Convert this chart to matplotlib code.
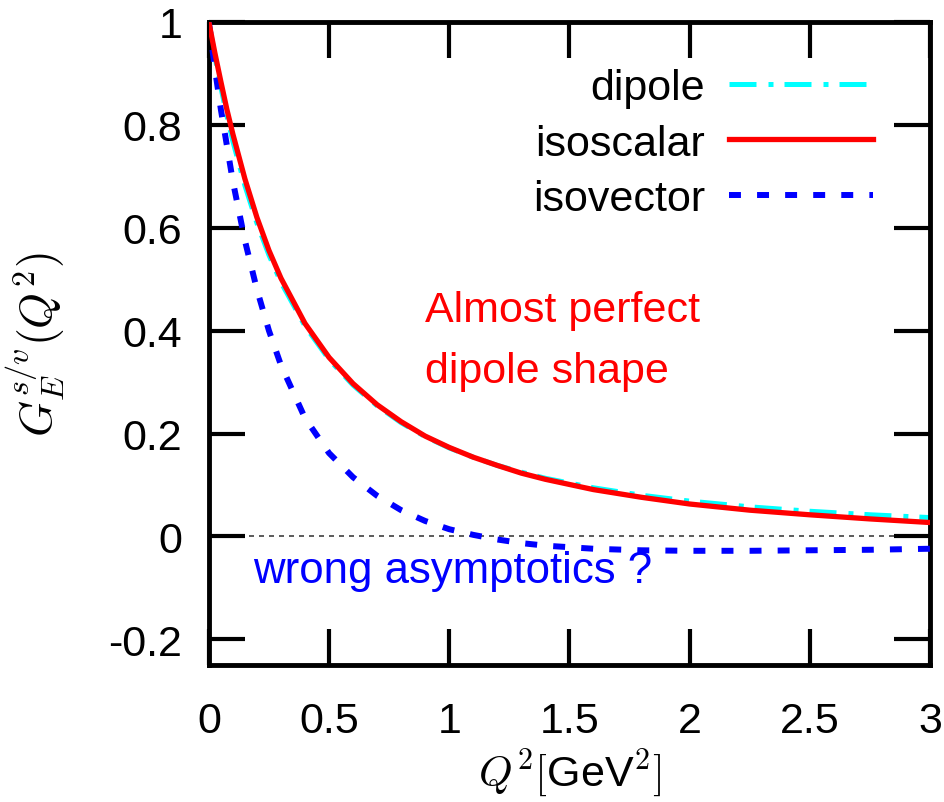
import numpy as np
import matplotlib
matplotlib.use("Agg")
import matplotlib.pyplot as plt

# Q^2 grid in GeV^2
q2 = [0.0, 0.025, 0.05, 0.075, 0.1, 0.15, 0.2, 0.25, 0.3, 0.4, 0.5, 0.6,
      0.7, 0.8, 0.9, 1.0, 1.1, 1.2, 1.3, 1.4, 1.6, 1.8, 2.0, 2.25, 2.5,
      2.75, 3.0]

dipole = [1.0, 0.933, 0.873, 0.818, 0.768, 0.682, 0.609, 0.547, 0.494,
          0.409, 0.344, 0.294, 0.254, 0.221, 0.194, 0.172, 0.154, 0.138,
          0.125, 0.113, 0.0945, 0.080, 0.0686, 0.0575, 0.0489, 0.0421,
          0.0366]

isoscalar = [1.0, 0.940, 0.884, 0.830, 0.782, 0.695, 0.620, 0.556, 0.502,
             0.414, 0.348, 0.297, 0.256, 0.223, 0.195, 0.173, 0.154, 0.138,
             0.123, 0.111, 0.091, 0.076, 0.063, 0.051, 0.042, 0.034, 0.027]

isovector = [1.0, 0.91, 0.83, 0.76, 0.69, 0.575, 0.48, 0.40, 0.333, 0.23,
             0.162, 0.115, 0.079, 0.051, 0.030, 0.014, 0.003, -0.006, -0.013,
             -0.018, -0.024, -0.027, -0.028, -0.028, -0.027, -0.026, -0.024]

xticks = [0, 0.5, 1, 1.5, 2, 2.5, 3]
xtick_labels = ["0", "0.5", "1", "1.5", "2", "2.5", "3"]
yticks = [-0.2, 0, 0.2, 0.4, 0.6, 0.8, 1]
ytick_labels = ["-0.2", "0", "0.2", "0.4", "0.6", "0.8", "1"]

plt.rcParams['font.family'] = ['Liberation Sans', 'DejaVu Sans']
plt.rcParams['mathtext.fontset'] = 'cm'
fs = 31

fig = plt.figure(figsize=(9.45, 8.03), dpi=100)
ax = fig.add_axes([0.221, 0.1706, 0.763, 0.8008])

# zero line
ax.axhline(0, color='#404040', lw=1.2, ls=(0, (3, 3)), zorder=1)

ax.plot(q2, dipole, color='#00ffff', lw=3.6,
        ls=(0, (5.4, 2.4, 1.0, 2.2)), label='dipole', zorder=2)
ax.plot(q2, isovector, color='#0000ff', lw=4.3,
        ls=(0, (2.0, 2.7)), label='isovector', zorder=3)
ax.plot(q2, isoscalar, color='#ff0000', lw=3.8, label='isoscalar', zorder=4)

ax.set_xlim(0, 3)
ax.set_ylim(-0.25, 1)
ax.set_xticks(xticks)
ax.set_xticklabels(xtick_labels)
ax.set_yticks(yticks)
ax.set_yticklabels(ytick_labels)

for s in ax.spines.values():
    s.set_linewidth(3.5)
ax.tick_params(direction='in', length=26, width=3, top=True, right=True,
               labelsize=fs)
ax.tick_params(axis='x', pad=26)
ax.tick_params(axis='y', pad=19)

ax.set_xlabel(r'$Q^2[$GeV$^2]$', fontsize=fs)
ax.xaxis.set_label_coords(0.5, -0.127)
ax.set_ylabel(r'$G_E^{s/v}(Q^2)$', fontsize=33)
ax.yaxis.set_label_coords(-0.197, 0.5)

handles, labels = ax.get_legend_handles_labels()
order = [labels.index(n) for n in ['dipole', 'isoscalar', 'isovector']]
ax.legend([handles[i] for i in order], [labels[i] for i in order],
          loc='upper right', bbox_to_anchor=(873 / 945, (803 - 69) / 803),
          bbox_transform=fig.transFigure, frameon=False, markerfirst=False,
          fontsize=fs, handlelength=3.35, handletextpad=0.55,
          labelspacing=0.36, borderpad=0, borderaxespad=0)

ax.text(0.9, 0.418, 'Almost perfect', color='#ff0000', fontsize=fs,
        va='baseline', ha='left')
ax.text(0.9, 0.301, 'dipole shape', color='#ff0000', fontsize=fs,
        va='baseline', ha='left')
ax.text(0.183, -0.089, 'wrong asymptotics ?', color='#0000ff', fontsize=31.5,
        va='baseline', ha='left')

fig.savefig('out.png', dpi=100)
